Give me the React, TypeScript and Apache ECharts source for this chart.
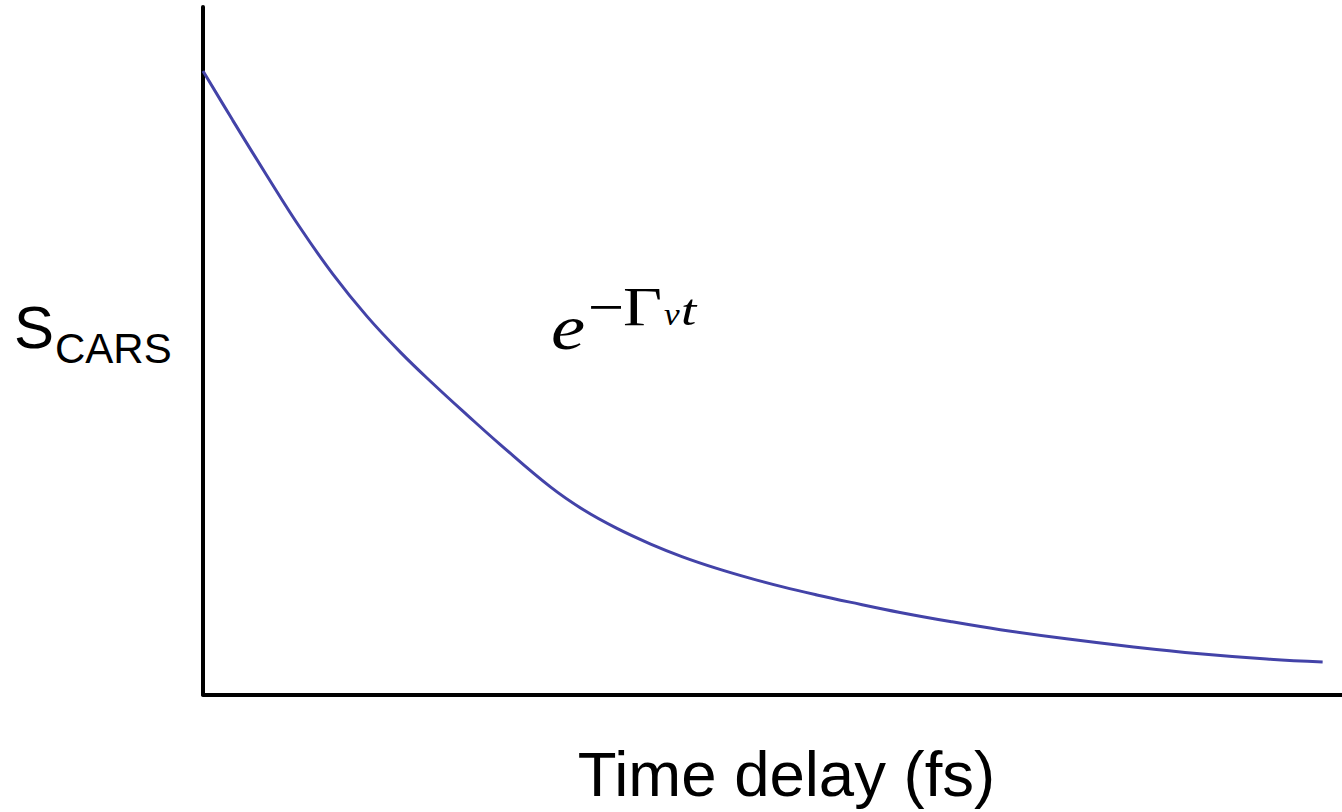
import React, { useEffect, useRef } from "react";
import * as echarts from "echarts";

// Time delay (arbitrary fs units) and CARS signal (arbitrary units)
const timeDelay = [0, 26, 56, 85, 114, 144, 173, 202, 232, 261, 305, 334, 363, 393, 421, 451, 480, 509, 539, 568, 612, 656, 700, 758, 817, 875, 934, 983];
const signal = [90.7, 83.55, 75.5, 67.96, 61.15, 55.0, 49.84, 45.2, 40.64, 36.35, 30.19, 26.86, 24.19, 21.88, 20.03, 18.35, 16.93, 15.65, 14.48, 13.44, 11.94, 10.62, 9.43, 8.1, 6.92, 5.93, 5.16, 4.72];

const xTitle = "Time delay (fs)";
const yTitleMain = "S";
const yTitleSub = "CARS";

export default function App() {
  const ref = useRef<HTMLDivElement>(null);
  useEffect(() => {
    if (!ref.current) return;
    const chart = echarts.init(ref.current, undefined, { renderer: "svg" });
    const data = timeDelay.map((t, i) => [t, signal[i]]);
    const serif = "'Liberation Serif', 'Times New Roman', serif";
    const sans = "'Liberation Sans', Arial, sans-serif";
    chart.setOption({
      animation: false,
      backgroundColor: "#ffffff",
      grid: { left: 203, right: 0, top: 7, bottom: 117.5 },
      xAxis: {
        type: "value",
        min: 0,
        max: 1000,
        axisLine: { show: true, onZero: false, lineStyle: { color: "#000", width: 4 } },
        axisTick: { show: false },
        axisLabel: { show: false },
        splitLine: { show: false },
      },
      yAxis: {
        type: "value",
        min: 0,
        max: 100,
        axisLine: { show: true, onZero: false, lineStyle: { color: "#000", width: 4 } },
        axisTick: { show: false },
        axisLabel: { show: false },
        splitLine: { show: false },
      },
      series: [
        {
          type: "line",
          data,
          smooth: 0.4,
          showSymbol: false,
          symbol: "none",
          lineStyle: { color: "#4343a8", width: 3 },
        },
      ],
      graphic: [
        {
          type: "text",
          x: 14,
          y: 327,
          style: { text: yTitleMain, fontSize: 60, fontFamily: sans, fill: "#000", align: "left", verticalAlign: "middle" },
        },
        {
          type: "text",
          x: 55,
          y: 348,
          style: { text: yTitleSub, fontSize: 42, fontFamily: sans, fill: "#000", align: "left", verticalAlign: "middle" },
        },
        {
          type: "text",
          x: 786.5,
          y: 773.5,
          style: { text: xTitle, fontSize: 63.5, fontFamily: sans, fill: "#000", align: "center", verticalAlign: "middle" },
        },
        {
          type: "text",
          x: 551,
          y: 327,
          scaleX: 1.2,
          style: { text: "e", fontSize: 64, fontStyle: "italic", fontFamily: serif, fill: "#000", align: "left", verticalAlign: "middle" },
        },
        {
          type: "text",
          x: 606,
          y: 307,
          scaleX: 1.15,
          style: { text: "−", fontSize: 56, fontFamily: serif, fill: "#000", align: "center", verticalAlign: "middle" },
        },
        {
          type: "text",
          x: 623,
          y: 307,
          scaleX: 1.25,
          style: { text: "Γ", fontSize: 54, fontFamily: serif, fill: "#000", align: "left", verticalAlign: "middle" },
        },
        {
          type: "text",
          x: 664,
          y: 314,
          scaleX: 1.1,
          style: { text: "ν", fontSize: 32, fontStyle: "italic", fontFamily: serif, fill: "#000", align: "left", verticalAlign: "middle" },
        },
        {
          type: "text",
          x: 681,
          y: 310,
          scaleX: 1.25,
          style: { text: "t", fontSize: 44, fontStyle: "italic", fontFamily: serif, fill: "#000", align: "left", verticalAlign: "middle" },
        },
      ],
    });
    return () => chart.dispose();
  }, []);
  return <div ref={ref} style={{ position: "fixed", left: 0, top: 0, width: 1342, height: 812 }} />;
}
